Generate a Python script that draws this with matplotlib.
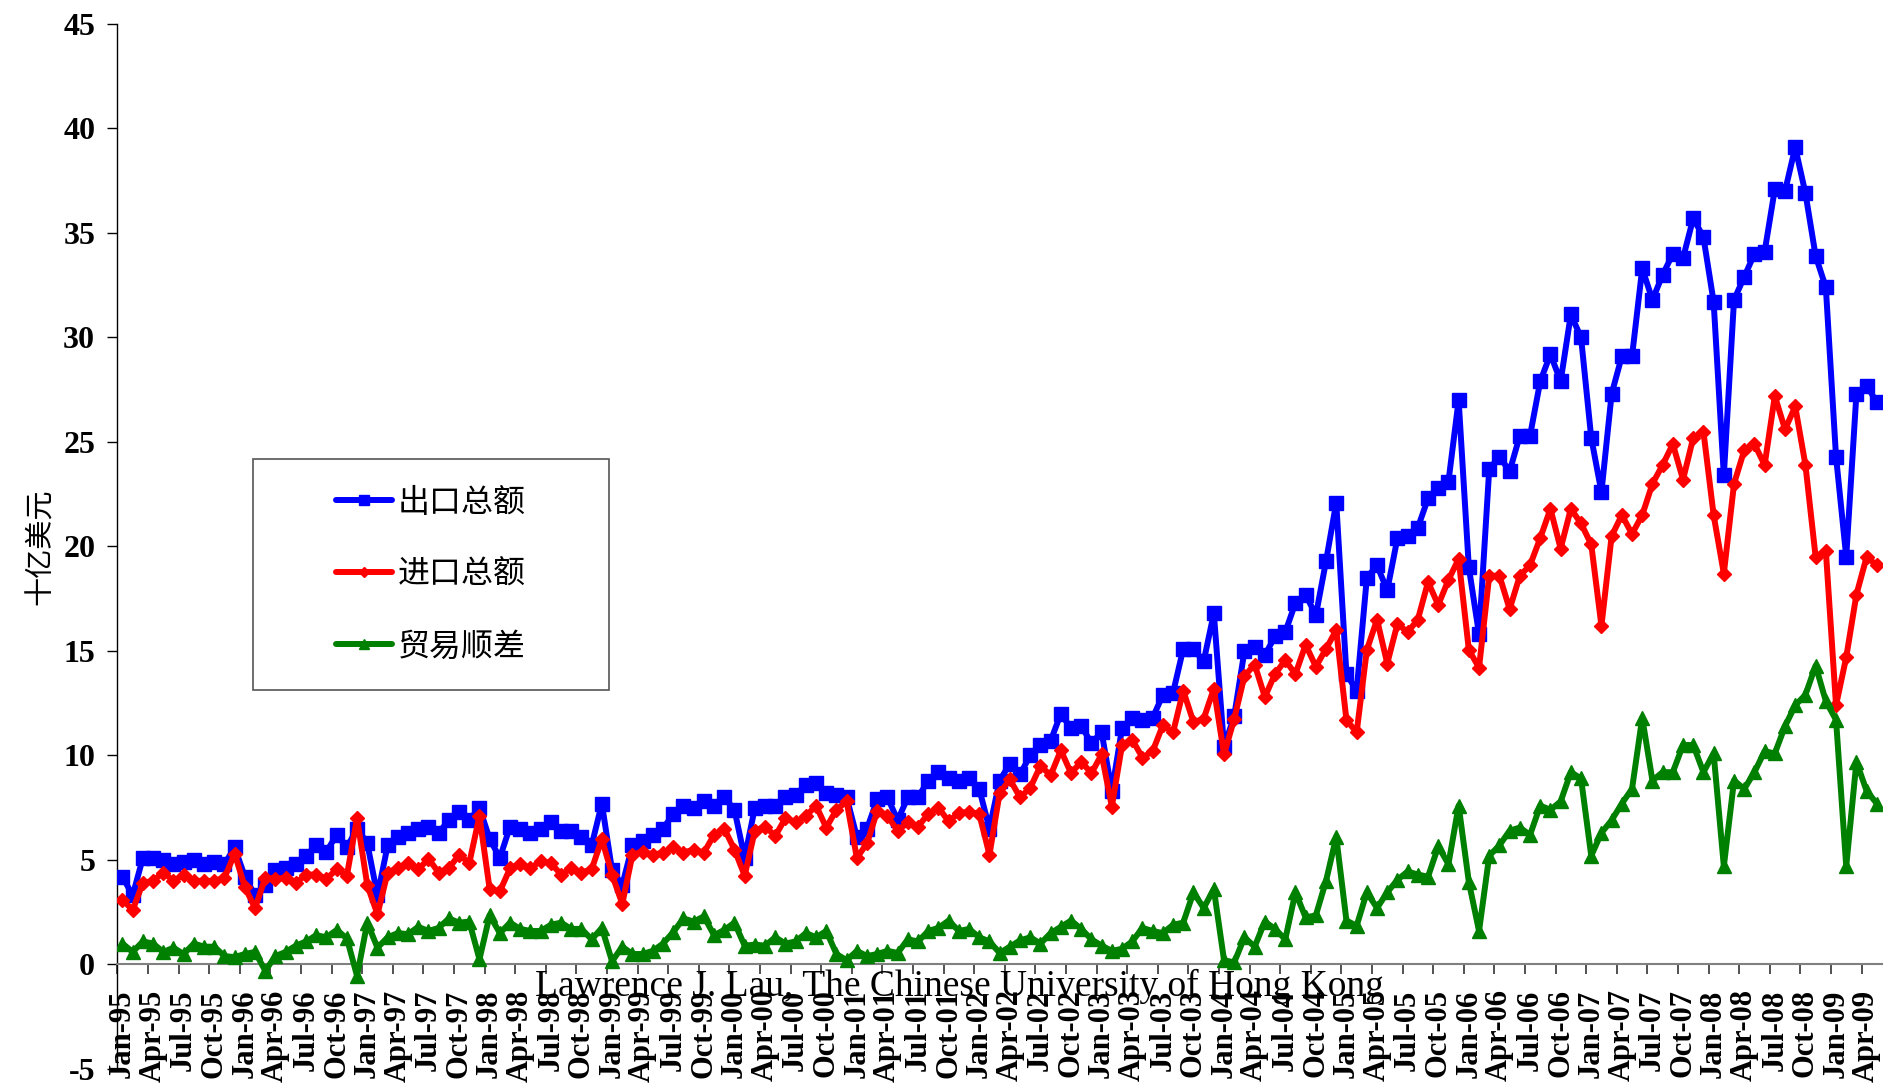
import numpy as np
import pandas as pd
import matplotlib
matplotlib.use("Agg")
import matplotlib.pyplot as plt
from matplotlib.patches import Rectangle

plt.rcParams["axes.unicode_minus"] = False

# months Jan-95 .. May-09
months = pd.date_range("1995-01-01", "2009-05-01", freq="MS").strftime("%b-%y").tolist()

# 出口总额 (exports), billion USD
exports = [
    4.2, 3.3, 5.1, 5.1, 5.0, 4.8, 4.9, 5.0, 4.8, 4.9, 4.8, 5.6,
    4.2, 3.3, 3.8, 4.5, 4.6, 4.8, 5.2, 5.7, 5.4, 6.2, 5.6, 6.5,
    5.8, 3.3, 5.7, 6.1, 6.3, 6.5, 6.6, 6.3, 6.9, 7.3, 6.9, 7.5,
    6.0, 5.1, 6.6, 6.5, 6.3, 6.5, 6.8, 6.4, 6.4, 6.1, 5.7, 7.7,
    4.5, 3.8, 5.7, 5.9, 6.2, 6.5, 7.2, 7.6, 7.5, 7.8, 7.6, 8.0,
    7.4, 5.1, 7.5, 7.6, 7.6, 8.0, 8.1, 8.6, 8.7, 8.2, 8.1, 8.0,
    6.1, 6.5, 7.9, 8.0, 6.9, 8.0, 8.0, 8.8, 9.2, 8.9, 8.8, 8.9,
    8.4, 6.5, 8.8, 9.6, 9.1, 10.0, 10.5, 10.7, 12.0, 11.3, 11.4, 10.6,
    11.1, 8.3, 11.3, 11.8, 11.7, 11.8, 12.9, 13.0, 15.1, 15.1, 14.5, 16.8,
    10.4, 11.9, 15.0, 15.2, 14.8, 15.7, 15.9, 17.3, 17.7, 16.7, 19.3, 22.1,
    13.9, 13.1, 18.5, 19.1, 17.9, 20.4, 20.5, 20.9, 22.3, 22.8, 23.1, 27.0,
    19.0, 15.8, 23.7, 24.3, 23.6, 25.3, 25.3, 27.9, 29.2, 27.9, 31.1, 30.0,
    25.2, 22.6, 27.3, 29.1, 29.1, 33.3, 31.8, 33.0, 34.0, 33.8, 35.7, 34.8,
    31.7, 23.4, 31.8, 32.9, 34.0, 34.1, 37.1, 37.0, 39.1, 36.9, 33.9, 32.4,
    24.3, 19.5, 27.3, 27.7, 26.9,
]

# 进口总额 (imports)
imports = [
    3.1, 2.6, 3.9, 4.0, 4.4, 4.0, 4.3, 4.0, 4.0, 4.0, 4.15, 5.3,
    3.7, 2.7, 4.15, 4.1, 4.15, 3.9, 4.3, 4.3, 4.1, 4.55, 4.25, 7.0,
    3.8, 2.4, 4.4, 4.6, 4.85, 4.55, 5.05, 4.4, 4.6, 5.25, 4.85, 7.1,
    3.6, 3.5, 4.6, 4.8, 4.6, 4.95, 4.85, 4.3, 4.6, 4.4, 4.55, 6.0,
    4.3, 2.9, 5.25, 5.4, 5.25, 5.35, 5.6, 5.35, 5.5, 5.35, 6.2, 6.5,
    5.5, 4.25, 6.4, 6.6, 6.15, 7.0, 6.8, 7.1, 7.6, 6.55, 7.4, 7.8,
    5.1, 5.8, 7.35, 7.1, 6.4, 6.8, 6.6, 7.2, 7.5, 6.85, 7.25, 7.3,
    7.2, 5.25, 8.2, 8.85, 8.0, 8.45, 9.5, 9.05, 10.25, 9.15, 9.7, 9.15,
    10.05, 7.55, 10.5, 10.75, 9.9, 10.2, 11.45, 11.1, 13.1, 11.6, 11.75, 13.2,
    10.05, 11.75, 13.8, 14.35, 12.8, 13.9, 14.55, 13.9, 15.3, 14.25, 15.1, 16.0,
    11.7, 11.1, 15.05, 16.5, 14.4, 16.3, 15.9, 16.5, 18.3, 17.2, 18.4, 19.4,
    15.05, 14.2, 18.6, 18.6, 17.0, 18.6, 19.1, 20.4, 21.8, 19.9, 21.8, 21.1,
    20.1, 16.2, 20.5, 21.5, 20.6, 21.5, 23.0, 23.9, 24.9, 23.2, 25.2, 25.5,
    21.5, 18.7, 23.0, 24.6, 24.9, 23.9, 27.2, 25.6, 26.7, 23.9, 19.5, 19.8,
    12.4, 14.7, 17.7, 19.5, 19.1,
]

# 贸易顺差 (trade surplus)
surplus = [
    1.0, 0.6, 1.1, 1.0, 0.6, 0.8, 0.5, 1.0, 0.85, 0.85, 0.4, 0.35,
    0.5, 0.6, -0.3, 0.4, 0.6, 0.9, 1.1, 1.4, 1.3, 1.65, 1.25, -0.55,
    2.0, 0.8, 1.3, 1.5, 1.45, 1.8, 1.6, 1.75, 2.2, 2.0, 2.05, 0.25,
    2.35, 1.5, 2.0, 1.7, 1.6, 1.6, 1.9, 2.0, 1.7, 1.7, 1.2, 1.75,
    0.15, 0.85, 0.5, 0.5, 0.65, 1.0, 1.55, 2.2, 2.05, 2.3, 1.4, 1.65,
    2.0, 0.9, 0.95, 0.9, 1.3, 1.0, 1.1, 1.5, 1.3, 1.6, 0.5, 0.2,
    0.65, 0.4, 0.5, 0.65, 0.55, 1.2, 1.1, 1.6, 1.75, 2.1, 1.6, 1.7,
    1.3, 1.1, 0.55, 0.85, 1.15, 1.3, 1.0, 1.5, 1.8, 2.1, 1.7, 1.2,
    0.9, 0.65, 0.75, 1.1, 1.75, 1.6, 1.5, 1.9, 2.0, 3.45, 2.7, 3.6,
    0.2, 0.1, 1.3, 0.85, 2.05, 1.7, 1.2, 3.45, 2.25, 2.35, 4.0, 6.1,
    2.1, 1.85, 3.45, 2.7, 3.45, 4.05, 4.45, 4.3, 4.2, 5.65, 4.8, 7.6,
    3.95, 1.6, 5.2, 5.7, 6.4, 6.55, 6.2, 7.6, 7.4, 7.8, 9.2, 8.9,
    5.2, 6.3, 6.9, 7.7, 8.4, 11.8, 8.8, 9.2, 9.2, 10.5, 10.5, 9.2,
    10.1, 4.7, 8.8, 8.4, 9.2, 10.2, 10.1, 11.4, 12.4, 12.9, 14.3, 12.6,
    11.7, 4.7, 9.7, 8.3, 7.7,
]

serif = "Liberation Serif"
cjk = ["Noto Sans CJK SC", "DejaVu Sans"]

x = np.arange(len(months))

fig = plt.figure(figsize=(18.84, 10.89), dpi=100)
ax = fig.add_axes([0.0623, 0.0184, 0.9366, 0.9596])

ax.plot(x, exports, color="#0000FF", lw=4.3, marker="s", ms=9.5, mec="#0000FF",
        solid_capstyle="round", solid_joinstyle="round", label="出口总额", zorder=3)
ax.plot(x, imports, color="#FF0000", lw=4.3, marker="D", ms=7, mec="#FF0000",
        solid_capstyle="round", solid_joinstyle="round", label="进口总额", zorder=4)
ax.plot(x, surplus, color="#008000", lw=4.3, marker="^", ms=10.5, mec="#008000",
        solid_capstyle="round", solid_joinstyle="round", label="贸易顺差", zorder=5)

ax.set_xlim(-0.5, len(months) - 0.5)
ax.set_ylim(-5, 45)

for s in ["top", "right"]:
    ax.spines[s].set_visible(False)
ax.spines["bottom"].set_position(("data", 0))
ax.spines["bottom"].set_color("#808080")
ax.spines["bottom"].set_linewidth(1.5)
ax.spines["left"].set_linewidth(1.0)

ax.set_yticks(np.arange(-5, 46, 5))
ax.tick_params(axis="y", direction="out", length=7, width=1, pad=9)
for t in ax.get_yticklabels():
    t.set_fontfamily(serif)
    t.set_fontweight("bold")
    t.set_fontsize(23)

ax.set_xticks(x[::3])
ax.set_xticklabels(months[::3], rotation=90, fontfamily=serif, fontweight="bold", fontsize=22)
ax.tick_params(axis="x", which="major", length=0, pad=18)
ax.set_xticks(np.arange(-0.5, len(months), 3), minor=True)
ax.tick_params(axis="x", which="minor", direction="out", length=7, width=1.2, color="#333333")

ax.set_ylabel("十亿美元", fontfamily=cjk, fontsize=21)
ax.yaxis.set_label_coords(-0.035, 0.5)

# legend box
ax.add_patch(Rectangle((0.0768, 0.3627), 0.2016, 0.221, transform=ax.transAxes,
                       facecolor="white", edgecolor="#555555", lw=1.2, zorder=6))
leg = ax.legend(loc="center", bbox_to_anchor=(0.1776, 0.4732), frameon=False,
                prop={"family": cjk, "size": 23}, handlelength=1.75, handletextpad=0.2,
                labelspacing=1.25, markerscale=0.75)
leg.set_zorder(7)

fig.text(0.509, 0.094, "Lawrence J. Lau, The Chinese University of Hong Kong",
         ha="center", va="center", fontfamily=serif, fontsize=27, zorder=10)

fig.savefig("out.png", dpi=100)
